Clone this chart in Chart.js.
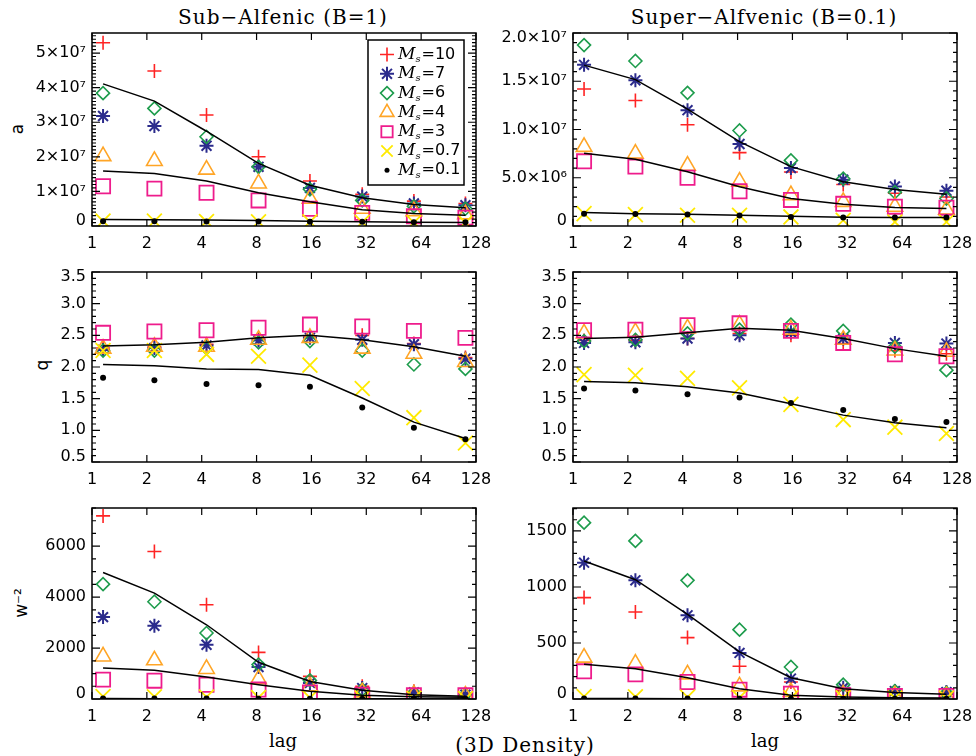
<!DOCTYPE html>
<html>
<head>
<meta charset="utf-8">
<script src="https://cdn.jsdelivr.net/npm/chart.js@4.4.1/dist/chart.umd.min.js"></script>
<style>
  body { margin: 0; background: #fff; }
  #wrap { position: relative; width: 976px; height: 756px; overflow: hidden; }
  #wrap canvas { position: absolute; left: 0; top: 0; }
  .txt { position: absolute; transform: translate(-50%, -50%); white-space: nowrap; color: #000; }
  .title { font: 20px "DejaVu Serif"; letter-spacing: 1px; }
  .ylab { font: 17px "DejaVu Sans"; }
  .xlab { font: 18px "DejaVu Serif"; }
</style>
</head>
<body>
<div id="wrap">
  <div class="txt title" style="left:283px; top:17px;">Sub−Alfenic (B=1)</div>
  <div class="txt title" style="left:764px; top:17px;">Super−Alfvenic (B=0.1)</div>
  <div class="txt ylab" style="left:17px; top:129px; transform: translate(-50%,-50%) rotate(-90deg);">a</div>
  <div class="txt ylab" style="left:42px; top:365px; transform: translate(-50%,-50%) rotate(-90deg);">q</div>
  <div class="txt ylab" style="left:21px; top:603px; transform: translate(-50%,-50%) rotate(-90deg);">w⁻²</div>
  <div class="txt xlab" style="left:283px; top:740px;">lag</div>
  <div class="txt xlab" style="left:765px; top:740px;">lag</div>
  <div class="txt title" style="left:525px; top:745px;">(3D Density)</div>
</div>
<script>
// lag positions of the measurements and the log2 axis ticks
const lags = [1.15, 2.2, 4.25, 8.2, 15.7, 30.4, 58.4, 112];
const xTicks = [1, 2, 4, 8, 16, 32, 64, 128];
const machLabels = ['10', '7', '6', '4', '3', '0.7', '0.1'];

// amplitude a, sub-Alfvenic (rows follow machLabels)
const aSub = [
  [5.30e7, 4.48e7, 3.21e7, 2.00e7, 1.30e7, 0.92e7, 0.72e7, 0.65e7],
  [3.18e7, 2.89e7, 2.32e7, 1.71e7, 1.10e7, 0.85e7, 0.65e7, 0.60e7],
  [3.84e7, 3.40e7, 2.58e7, 1.71e7, 1.06e7, 0.74e7, 0.57e7, 0.50e7],
  [2.02e7, 1.88e7, 1.63e7, 1.23e7, 0.79e7, 0.50e7, 0.43e7, 0.34e7],
  [1.15e7, 1.08e7, 0.96e7, 0.74e7, 0.50e7, 0.38e7, 0.28e7, 0.24e7],
  [0.14e7, 0.14e7, 0.13e7, 0.12e7, 0.12e7, 0.11e7, 0.10e7, 0.10e7],
  [0.14e7, 0.14e7, 0.13e7, 0.13e7, 0.12e7, 0.12e7, 0.11e7, 0.11e7]
];
const aSubFit = [
  [4.11e7, 3.61e7, 2.74e7, 1.81e7, 1.18e7, 0.82e7, 0.62e7, 0.53e7],
  [1.59e7, 1.52e7, 1.30e7, 0.96e7, 0.70e7, 0.47e7, 0.36e7, 0.31e7],
  [0.19e7, 0.18e7, 0.17e7, 0.16e7, 0.14e7, 0.12e7, 0.11e7, 0.10e7]
];

// amplitude a, super-Alfvenic
const aSup = [
  [14.2e6, 13.0e6, 10.5e6, 7.6e6, 5.6e6, 4.3e6, 3.4e6, 3.0e6],
  [16.7e6, 15.1e6, 12.0e6, 8.5e6, 6.0e6, 4.8e6, 4.1e6, 3.65e6],
  [18.75e6, 17.1e6, 13.8e6, 9.9e6, 6.8e6, 4.9e6, 3.5e6, 2.85e6],
  [8.2e6, 7.5e6, 6.25e6, 4.6e6, 3.2e6, 2.5e6, 2.0e6, 1.7e6],
  [6.7e6, 6.15e6, 5.0e6, 3.6e6, 2.7e6, 2.3e6, 2.0e6, 1.9e6],
  [1.28e6, 1.18e6, 1.11e6, 1.11e6, 0.94e6, 0.60e6, 0.42e6, 0.42e6],
  [1.28e6, 1.25e6, 1.18e6, 1.08e6, 0.94e6, 0.87e6, 0.87e6, 0.87e6]
];
const aSupFit = [
  [16.67e6, 15.17e6, 12.12e6, 8.75e6, 6.15e6, 4.58e6, 3.78e6, 3.30e6],
  [7.53e6, 6.91e6, 5.63e6, 4.06e6, 2.85e6, 2.26e6, 1.91e6, 1.81e6],
  [1.39e6, 1.28e6, 1.22e6, 1.11e6, 1.01e6, 0.90e6, 0.87e6, 0.87e6]
];

// slope q
const qSub = [
  [2.30, 2.32, 2.36, 2.44, 2.49, 2.50, 2.37, 2.15],
  [2.27, 2.30, 2.34, 2.42, 2.46, 2.43, 2.36, 2.13],
  [2.26, 2.26, 2.30, 2.39, 2.41, 2.26, 2.04, 1.97],
  [2.29, 2.32, 2.32, 2.43, 2.46, 2.29, 2.21, 2.08],
  [2.54, 2.56, 2.58, 2.62, 2.67, 2.64, 2.57, 2.46],
  [2.26, 2.26, 2.20, 2.17, 2.03, 1.66, 1.20, 0.80],
  [1.83, 1.79, 1.73, 1.71, 1.69, 1.36, 1.04, 0.86]
];
const qSubFit = [
  [2.33, 2.35, 2.39, 2.46, 2.50, 2.43, 2.32, 2.17],
  [2.04, 2.02, 1.97, 1.96, 1.87, 1.51, 1.13, 0.87]
];
const qSup = [
  [2.42, 2.42, 2.45, 2.53, 2.50, 2.37, 2.26, 2.21],
  [2.38, 2.39, 2.45, 2.50, 2.55, 2.45, 2.38, 2.37],
  [2.41, 2.43, 2.53, 2.59, 2.67, 2.57, 2.32, 1.95],
  [2.53, 2.55, 2.61, 2.67, 2.59, 2.43, 2.26, 2.24],
  [2.58, 2.59, 2.66, 2.69, 2.57, 2.38, 2.20, 2.17],
  [1.88, 1.87, 1.82, 1.67, 1.41, 1.17, 1.05, 0.95],
  [1.66, 1.63, 1.57, 1.52, 1.43, 1.32, 1.18, 1.13]
];
const qSupFit = [
  [2.45, 2.47, 2.54, 2.61, 2.58, 2.45, 2.29, 2.17],
  [1.77, 1.75, 1.69, 1.59, 1.42, 1.24, 1.12, 1.04]
];

// inverse squared width w^-2
const wSub = [
  [7190, 5790, 3700, 1830, 890, 500, 300, 210],
  [3215, 2876, 2130, 1255, 630, 430, 260, 170],
  [4510, 3820, 2590, 1350, 730, 370, 235, 170],
  [1670, 1520, 1180, 780, 500, 260, 170, 130],
  [760, 720, 560, 370, 260, 170, 145, 145],
  [100, 90, 80, 60, 45, 35, 25, 20],
  [20, 18, 15, 12, 10, 8, 6, 5]
];
const wSubFit = [
  [4970, 4160, 2915, 1440, 690, 340, 170, 105],
  [1215, 1125, 865, 560, 300, 145, 90, 65],
  [15, 14, 12, 10, 8, 6, 5, 4]
];
const wSup = [
  [905, 777, 548, 292, 152, 77, 54, 42],
  [1217, 1059, 747, 411, 182, 101, 71, 62],
  [1574, 1411, 1059, 619, 286, 128, 71, 54],
  [369, 315, 220, 113, 62, 42, 33, 27],
  [247, 220, 152, 83, 48, 33, 27, 27],
  [22, 20, 17, 13, 10, 10, 9, 8],
  [5, 5, 4, 3, 3, 2, 2, 2]
];
const wSupFit = [
  [1232, 1065, 756, 420, 190, 92, 57, 42],
  [310, 271, 190, 92, 33, 18, 12, 9],
  [4, 4, 3, 3, 2, 2, 1, 1]
];

// y tick values and their labels
const aSubTicks = [0, 1e7, 2e7, 3e7, 4e7, 5e7];
const aSubTickLabels = ['0', '1×10⁷', '2×10⁷', '3×10⁷', '4×10⁷', '5×10⁷'];
const aSupTicks = [0, 5e6, 1e7, 1.5e7, 2e7];
const aSupTickLabels = ['0', '5.0×10⁶', '1.0×10⁷', '1.5×10⁷', '2.0×10⁷'];
const qTicks = [0.5, 1.0, 1.5, 2.0, 2.5, 3.0, 3.5];
const qTickLabels = ['0.5', '1.0', '1.5', '2.0', '2.5', '3.0', '3.5'];
const wSubTicks = [0, 2000, 4000, 6000];
const wSubTickLabels = ['0', '2000', '4000', '6000'];
const wSupTicks = [0, 500, 1000, 1500];
const wSupTickLabels = ['0', '500', '1000', '1500'];

// marker style for each Mach number
const markers = [
  { style: 'cross', color: '#ff2424', r: 7, w: 1.6 },
  { style: 'star', color: '#2b2b8c', r: 7, w: 2 },
  { style: 'rectRot', color: '#1d9c4c', r: 6.5, w: 1.6 },
  { style: 'triangle', color: '#ffa526', r: 9, w: 1.6 },
  { style: 'rect', color: '#ee1c8c', r: 10, w: 1.8 },
  { style: 'crossRot', color: '#ffea00', r: 10.5, w: 1.8 },
  { style: 'circle', color: '#000000', r: 3, w: 0, filled: true }
];

const panels = [
  { box: [92, 33, 476, 226], yMin: 0, yMax: 5.58e7, minor: 1e6, ticks: aSubTicks, labels: aSubTickLabels, values: aSub, fits: aSubFit, legend: true },
  { box: [573, 33, 957, 226], yMin: 0, yMax: 2e7, minor: 1e6, ticks: aSupTicks, labels: aSupTickLabels, values: aSup, fits: aSupFit },
  { box: [92, 272, 476, 462], yMin: 0.5, yMax: 3.5, minor: 0.1, ticks: qTicks, labels: qTickLabels, values: qSub, fits: qSubFit },
  { box: [573, 272, 957, 462], yMin: 0.5, yMax: 3.5, minor: 0.1, ticks: qTicks, labels: qTickLabels, values: qSup, fits: qSupFit },
  { box: [92, 508, 476, 699], yMin: 0, yMax: 7500, minor: 500, ticks: wSubTicks, labels: wSubTickLabels, values: wSub, fits: wSubFit },
  { box: [573, 508, 957, 699], yMin: 0, yMax: 1705, minor: 100, ticks: wSupTicks, labels: wSupTickLabels, values: wSup, fits: wSupFit }
];

const W = 976, H = 756;

function drawLegend(ctx, a) {
  const left = a.right - 108, top = a.top + 7;
  ctx.lineWidth = 1.5;
  ctx.strokeStyle = '#000';
  ctx.strokeRect(left, top, 96, 145);
  markers.forEach((m, i) => {
    const y = top + 14.5 + i * 19.3;
    ctx.strokeStyle = m.color;
    ctx.fillStyle = m.filled ? m.color : 'rgba(0,0,0,0)';
    ctx.lineWidth = m.w;
    const r = m.style === 'circle' ? 2.5 : Math.min(m.r, 8);
    Chart.helpers.drawPoint(ctx, { pointStyle: m.style, radius: r, rotation: 0, borderWidth: m.w }, left + 19, y);
    ctx.fillStyle = '#000';
    ctx.textBaseline = 'middle';
    ctx.textAlign = 'left';
    let x = left + 30;
    ctx.font = 'italic 17px "DejaVu Serif"';
    ctx.fillText('M', x, y);
    x += ctx.measureText('M').width;
    ctx.font = 'italic 10px "DejaVu Serif"';
    ctx.fillText('s', x, y + 5);
    x += ctx.measureText('s').width + 1;
    ctx.font = '16px "DejaVu Sans"';
    ctx.fillText('=' + machLabels[i], x, y);
  });
}

function framePlugin(p) {
  return {
    id: 'frame',
    afterDatasetsDraw(chart) {
      const { ctx, chartArea: a, scales: { x, y } } = chart;
      ctx.save();
      ctx.strokeStyle = '#000';
      ctx.lineWidth = 1.5;
      ctx.strokeRect(a.left, a.top, a.right - a.left, a.bottom - a.top);
      ctx.beginPath();
      ctx.lineWidth = 1.2;
      xTicks.forEach(v => {
        const px = x.getPixelForValue(v);
        ctx.moveTo(px, a.bottom); ctx.lineTo(px, a.bottom - 7);
        ctx.moveTo(px, a.top); ctx.lineTo(px, a.top + 7);
      });
      for (let k = 0; p.yMin + k * p.minor <= p.yMax + 1e-9; k++) {
        const py = y.getPixelForValue(p.yMin + k * p.minor);
        ctx.moveTo(a.left, py); ctx.lineTo(a.left + 4, py);
        ctx.moveTo(a.right, py); ctx.lineTo(a.right - 4, py);
      }
      p.ticks.forEach(v => {
        const py = y.getPixelForValue(v);
        ctx.moveTo(a.left, py); ctx.lineTo(a.left + 8, py);
        ctx.moveTo(a.right, py); ctx.lineTo(a.right - 8, py);
      });
      ctx.stroke();

      ctx.fillStyle = '#000';
      ctx.font = '16px "DejaVu Sans"';
      ctx.textAlign = 'center';
      ctx.textBaseline = 'middle';
      xTicks.forEach(v => ctx.fillText(String(v), x.getPixelForValue(v), a.bottom + 18));
      ctx.textAlign = 'right';
      p.ticks.forEach((v, i) => {
        let py = y.getPixelForValue(v);
        if (v === p.yMin) py -= 5;
        if (v === p.yMax) py += 5;
        ctx.fillText(p.labels[i], a.left - 6, py);
      });
      if (p.legend) drawLegend(ctx, a);
      ctx.restore();
    }
  };
}

const wrap = document.getElementById('wrap');
panels.forEach(p => {
  const canvas = document.createElement('canvas');
  canvas.width = W;
  canvas.height = H;
  wrap.appendChild(canvas);

  const datasets = [];
  p.values.forEach((vals, i) => {
    const m = markers[i];
    datasets.push({
      label: 'M_s=' + machLabels[i],
      data: lags.map((lag, j) => ({ x: lag, y: vals[j] })),
      pointStyle: m.style,
      pointRadius: m.r,
      pointBorderWidth: m.w,
      borderColor: m.color,
      backgroundColor: m.filled ? m.color : 'rgba(0,0,0,0)',
      showLine: false,
      clip: 0,
      order: 10 - i
    });
  });
  p.fits.forEach(vals => {
    datasets.push({
      data: lags.map((lag, j) => ({ x: lag, y: vals[j] })),
      showLine: true,
      pointRadius: 0,
      borderColor: '#000',
      borderWidth: 1.5,
      tension: 0,
      clip: 0,
      order: 0
    });
  });

  new Chart(canvas, {
    type: 'scatter',
    data: { datasets },
    options: {
      responsive: false,
      animation: false,
      devicePixelRatio: 1,
      events: [],
      layout: { padding: { left: p.box[0], top: p.box[1], right: W - p.box[2], bottom: H - p.box[3] } },
      scales: {
        x: { type: 'logarithmic', min: 1, max: 128, display: false },
        y: { type: 'linear', min: p.yMin, max: p.yMax, display: false }
      },
      plugins: { legend: { display: false }, tooltip: { enabled: false } }
    },
    plugins: [framePlugin(p)]
  });
});
</script>
</body>
</html>
